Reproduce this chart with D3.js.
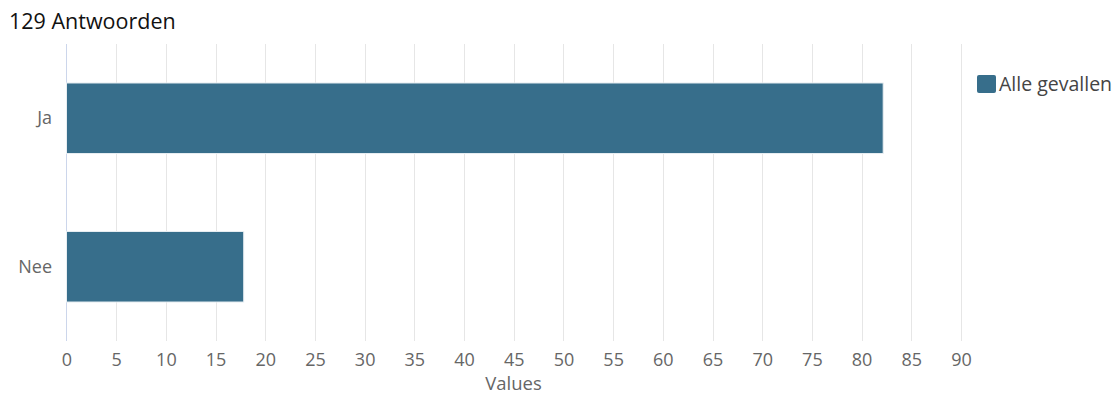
<!DOCTYPE html>
<html>
<head>
<meta charset="utf-8">
<script src="https://cdn.jsdelivr.net/npm/d3@7"></script>
<style>
body { margin: 0; background: #fff; }
text { font-family: "Open Sans", "Noto Sans", sans-serif; }
</style>
</head>
<body>
<script>
var title = '129 Antwoorden';
var categories = ['Ja', 'Nee'];
var values = [82.17, 17.83];
var seriesName = 'Alle gevallen';
var xTicks = [0, 5, 10, 15, 20, 25, 30, 35, 40, 45, 50, 55, 60, 65, 70, 75, 80, 85, 90];

var width = 1115;
var height = 394;
var margin = { top: 44, left: 66, right: 154, bottom: 53 };
var innerWidth = width - margin.left - margin.right;
var innerHeight = height - margin.top - margin.bottom;

var svg = d3.select('body').append('svg')
    .attr('width', width)
    .attr('height', height);

svg.append('text')
    .attr('x', 9)
    .attr('y', 29)
    .attr('font-size', 21.5)
    .attr('fill', '#111')
    .text(title);

var g = svg.append('g')
    .attr('transform', 'translate(' + margin.left + ',' + margin.top + ')');

var x = d3.scaleLinear()
    .domain([0, 90])
    .range([0.5, innerWidth]);

var y = d3.scaleBand()
    .domain(categories)
    .range([0, innerHeight])
    .paddingInner(0.525)
    .paddingOuter(0.2625);

// grid lines
g.selectAll('line.grid')
    .data(xTicks.slice(1))
    .join('line')
    .attr('class', 'grid')
    .attr('x1', function (d) { return Math.round(x(d)) + 0.5; })
    .attr('x2', function (d) { return Math.round(x(d)) + 0.5; })
    .attr('y1', 0)
    .attr('y2', innerHeight)
    .attr('stroke', '#e6e6e6');

// axis line
g.append('line')
    .attr('x1', 0.5).attr('x2', 0.5)
    .attr('y1', 0).attr('y2', innerHeight)
    .attr('stroke', '#ccd6eb');

g.selectAll('rect.bar')
    .data(values)
    .join('rect')
    .attr('class', 'bar')
    .attr('x', x(0))
    .attr('y', function (d, i) { return y(categories[i]); })
    .attr('width', function (d) { return x(d) - x(0); })
    .attr('height', y.bandwidth())
    .attr('fill', '#376e8b')
    .attr('stroke', '#e8eef2');

var xaxis = d3.axisBottom(x).tickValues(xTicks).tickSize(0).tickPadding(12);
var xg = g.append('g')
    .attr('transform', 'translate(0,' + innerHeight + ')')
    .call(xaxis)
    .attr('fill', null)
    .attr('font-size', 18)
    .attr('font-family', '"Open Sans", sans-serif');
xg.select('.domain').remove();
xg.selectAll('text').attr('fill', '#666');

var yaxis = d3.axisLeft(y).tickSize(0).tickPadding(14);
var yg = g.append('g').call(yaxis)
    .attr('fill', null)
    .attr('font-size', 18)
    .attr('font-family', '"Open Sans", sans-serif');
yg.select('.domain').remove();
yg.selectAll('text').attr('fill', '#666');

svg.append('text')
    .attr('x', margin.left + innerWidth / 2)
    .attr('y', 390)
    .attr('text-anchor', 'middle')
    .attr('font-size', 18.5)
    .attr('fill', '#666')
    .text('Values');

// legend
var legend = svg.append('g').attr('transform', 'translate(977,75)');
legend.append('rect')
    .attr('width', 19).attr('height', 18)
    .attr('rx', 2)
    .attr('fill', '#376e8b');
legend.append('text')
    .attr('x', 22)
    .attr('y', 16)
    .attr('font-size', 19.5)
    .attr('fill', '#444')
    .text(seriesName);
</script>
</body>
</html>
